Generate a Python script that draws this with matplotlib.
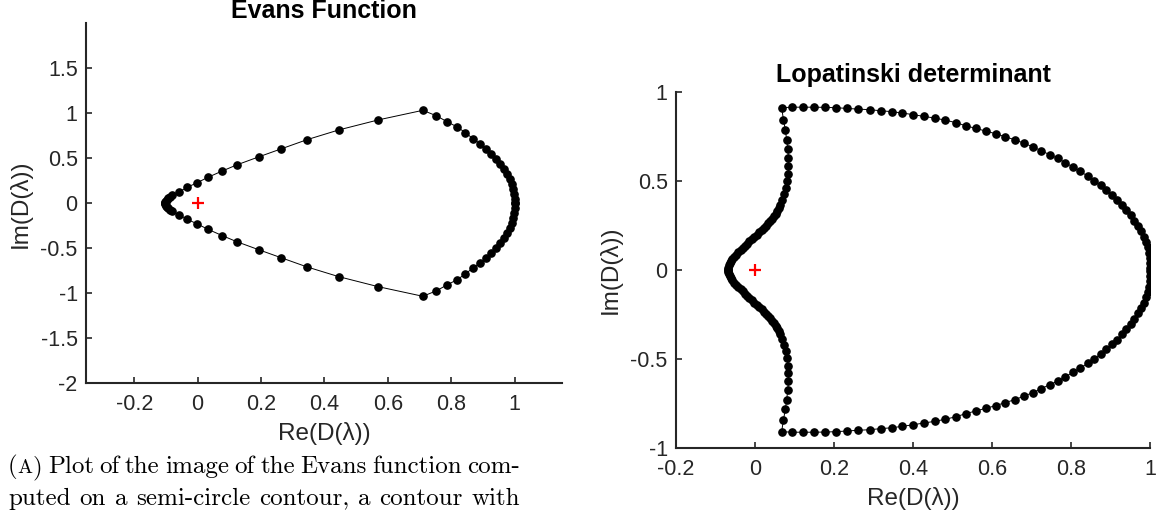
import numpy as np
import matplotlib
matplotlib.use("Agg")
import matplotlib.pyplot as plt
from matplotlib.ticker import FuncFormatter

# Evans function image, upper half (tip -> corner -> right arc -> real axis)
evans_re = [-0.104, -0.103, -0.101, -0.098, -0.093, -0.087, -0.080, -0.059, -0.033,
            -0.003, 0.032, 0.077, 0.123, 0.192, 0.262, 0.345, 0.445, 0.569, 0.710,
            0.752, 0.786, 0.818, 0.844, 0.868, 0.890, 0.909, 0.926, 0.941, 0.955,
            0.966, 0.976, 0.984, 0.991, 0.996, 0.999, 1.000, 1.000]
evans_im = [0.000, 0.012, 0.025, 0.040, 0.056, 0.072, 0.089, 0.126, 0.178,
            0.226, 0.288, 0.358, 0.426, 0.515, 0.603, 0.707, 0.815, 0.926, 1.033,
            0.974, 0.908, 0.849, 0.786, 0.719, 0.663, 0.604, 0.549, 0.493, 0.438,
            0.382, 0.330, 0.271, 0.216, 0.160, 0.104, 0.049, 0.000]

# Lopatinski determinant, upper half (tip -> left branch -> corner -> top arc -> real axis)
lop_re = [-0.069, -0.068, -0.066, -0.064, -0.061, -0.057, -0.052, -0.047, -0.042, -0.036,
          -0.031, -0.025, -0.019, -0.014, -0.008, -0.002, 0.005, 0.011, 0.017, 0.022,
          0.028, 0.033, 0.038, 0.043, 0.047, 0.052, 0.056, 0.060, 0.064,
          0.069, 0.074, 0.079, 0.081, 0.0845, 0.0845, 0.0845, 0.083, 0.080, 0.077, 0.072, 0.0675,
          0.0946, 0.1217, 0.1496, 0.1775, 0.2054, 0.234, 0.262, 0.290, 0.318, 0.346,
          0.373, 0.401, 0.428, 0.455, 0.482, 0.509, 0.533, 0.559, 0.584, 0.609,
          0.633, 0.658, 0.680, 0.703, 0.724, 0.746, 0.767, 0.786, 0.805, 0.824,
          0.842, 0.859, 0.875, 0.889, 0.904, 0.916, 0.929, 0.940, 0.951, 0.960,
          0.969, 0.977, 0.984, 0.990, 0.995, 0.998, 1.000, 1.000, 1.000]
lop_im = [0.000, 0.012, 0.024, 0.036, 0.048, 0.060, 0.072, 0.085, 0.097, 0.110,
          0.122, 0.135, 0.147, 0.160, 0.172, 0.185, 0.197, 0.210, 0.222, 0.235,
          0.247, 0.260, 0.272, 0.286, 0.300, 0.315, 0.330, 0.345, 0.361,
          0.391, 0.423, 0.458, 0.496, 0.539, 0.580, 0.627, 0.678, 0.730, 0.784, 0.843, 0.910,
          0.913, 0.913, 0.913, 0.912, 0.910, 0.906, 0.902, 0.899, 0.893, 0.888,
          0.880, 0.871, 0.861, 0.852, 0.840, 0.826, 0.809, 0.794, 0.779, 0.764,
          0.747, 0.730, 0.711, 0.691, 0.669, 0.646, 0.625, 0.601, 0.576, 0.552,
          0.526, 0.500, 0.474, 0.447, 0.419, 0.393, 0.363, 0.335, 0.305, 0.275,
          0.245, 0.215, 0.185, 0.155, 0.125, 0.096, 0.065, 0.037, 0.008]

left_xticks = [-0.2, 0, 0.2, 0.4, 0.6, 0.8, 1]
left_yticks = [-2, -1.5, -1, -0.5, 0, 0.5, 1, 1.5]
right_xticks = [-0.2, 0, 0.2, 0.4, 0.6, 0.8, 1]
right_yticks = [-1, -0.5, 0, 0.5, 1]

caption_lines = [
    "(A) Plot of the image of the Evans function com-",
    "puted on a semi-circle contour, a contour with",
]

plt.rcParams['font.family'] = ['Liberation Sans', 'DejaVu Sans']
plt.rcParams['axes.unicode_minus'] = False

W, H = 1161, 520
fig = plt.figure(figsize=(W / 100, H / 100), dpi=100)
dark = '#262626'
TICK_FS = 15.5
LABEL_FS = 17.5


def full_loop(re, im):
    # the contour image is symmetric about the real axis: D(conj l) = conj D(l)
    re = np.asarray(re)
    im = np.asarray(im)
    return np.r_[re, re[::-1]], np.r_[im, -im[::-1]]


def style(ax, xticks, yticks):
    ax.spines['top'].set_visible(False)
    ax.spines['right'].set_visible(False)
    for s in ('left', 'bottom'):
        ax.spines[s].set_linewidth(1.5)
        ax.spines[s].set_color(dark)
    ax.set_xticks(xticks)
    ax.set_yticks(yticks)
    fmt = FuncFormatter(lambda v, p: '%g' % v)
    ax.xaxis.set_major_formatter(fmt)
    ax.yaxis.set_major_formatter(fmt)
    ax.tick_params(direction='in', length=4, width=1.2, color=dark,
                   labelcolor=dark, labelsize=TICK_FS)
    ax.tick_params(axis='x', pad=8)
    ax.tick_params(axis='y', pad=6)
    ax.set_xlabel('Re(D(λ))', fontsize=LABEL_FS, color=dark, labelpad=5)
    ax.set_ylabel('Im(D(λ))', fontsize=LABEL_FS, color=dark, labelpad=6)


# left panel: Evans function
ax1 = fig.add_axes([86 / W, 1 - 383.3 / H, (562.3 - 86) / W, 360 / H])
x, y = full_loop(evans_re, evans_im)
ax1.plot(x, y, '-', color='black', lw=0.7, marker='o', ms=5.2, mfc='black', mec='black')
ax1.plot([0], [0], '+', color='red', ms=8.5, mew=1.6)
ax1.set_xlim(-0.352, 1.15)
ax1.set_ylim(-2, 2)
style(ax1, left_xticks, left_yticks)
ax1.set_title('Evans Function', fontsize=18, fontweight='bold', color='black', pad=1)

# right panel: Lopatinski determinant
ax2 = fig.add_axes([676 / W, 1 - 447.7 / H, (1150 - 676) / W, 356 / H])
x, y = full_loop(lop_re, lop_im)
ax2.plot(x, y, '-', color='black', lw=0.7, marker='o', ms=5.2, mfc='black', mec='black')
ax2.plot([0], [0], '+', color='red', ms=8.5, mew=1.6)
ax2.set_xlim(-0.2, 1)
ax2.set_ylim(-1, 1)
style(ax2, right_xticks, right_yticks)
ax2.set_title('Lopatinski determinant', fontsize=18, fontweight='bold', color='black', pad=7)

# caption, justified between x0 and x1 (pixels); "(A)" with a small-caps A
renderer = fig.canvas.get_renderer()
x0, x1 = 8, 520
CAP_FS = 18
for line, base in zip(caption_lines, [473, 505]):
    words = []
    for w in line.split(' '):
        if w == '(A)':
            words.append([('(', CAP_FS), ('A', CAP_FS * 0.8), (')', CAP_FS)])
        else:
            words.append([(w, CAP_FS)])
    placed = []
    for pieces in words:
        items = []
        for s, fs in pieces:
            t = fig.text(0, 1 - base / H, s, family='cmr10', fontsize=fs,
                         color='black', va='baseline', ha='left')
            items.append((t, t.get_window_extent(renderer).width))
        placed.append(items)
    widths = [sum(wd for _, wd in items) for items in placed]
    gap = (x1 - x0 - sum(widths)) / (len(placed) - 1)
    xp = x0
    for items, wtot in zip(placed, widths):
        xi = xp
        for t, wd in items:
            t.set_x(xi / W)
            xi += wd
        xp += wtot + gap

fig.savefig('out.png', dpi=100)
